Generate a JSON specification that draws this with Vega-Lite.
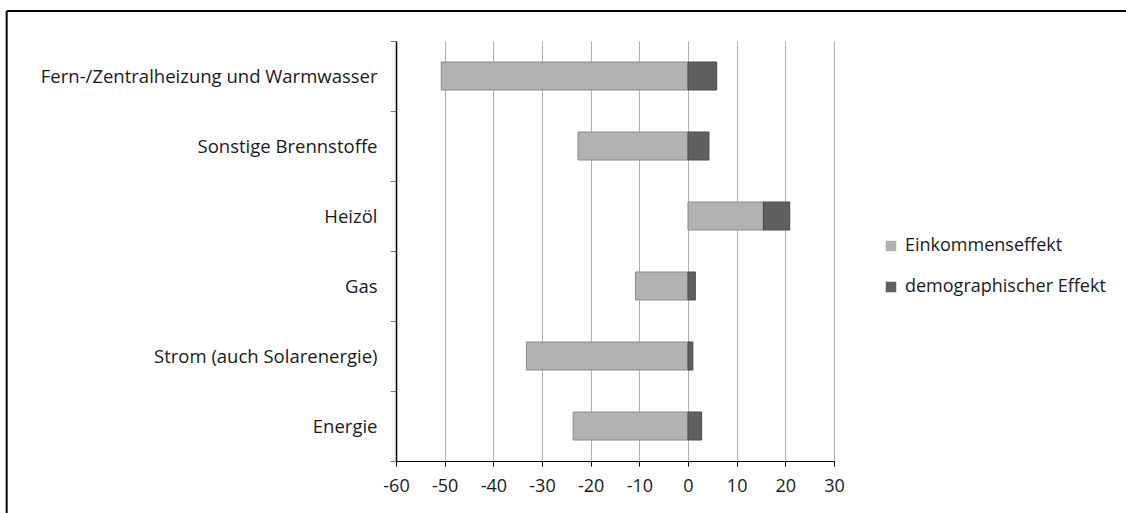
{
  "$schema": "https://vega.github.io/schema/vega-lite/v6.json",
  "width": 438,
  "height": 420,
  "autosize": {"type": "none"},
  "padding": {"left": 396, "top": 41, "right": 292, "bottom": 52},
  "background": "white",
  "config": {
    "font": "Open Sans",
    "view": {"stroke": null},
    "axis": {"labelFont": "Open Sans", "labelColor": "#1a1a1a", "labelFontSize": 18}
  },
  "datasets": {
    "effekte": [
      {"kategorie": "Fern-/Zentralheizung und Warmwasser", "effekt": "Einkommenseffekt", "ordnung": 1, "wert": -50.7},
      {"kategorie": "Fern-/Zentralheizung und Warmwasser", "effekt": "demographischer Effekt", "ordnung": 2, "wert": 5.9},
      {"kategorie": "Sonstige Brennstoffe", "effekt": "Einkommenseffekt", "ordnung": 1, "wert": -22.6},
      {"kategorie": "Sonstige Brennstoffe", "effekt": "demographischer Effekt", "ordnung": 2, "wert": 4.3},
      {"kategorie": "Heizöl", "effekt": "Einkommenseffekt", "ordnung": 1, "wert": 15.5},
      {"kategorie": "Heizöl", "effekt": "demographischer Effekt", "ordnung": 2, "wert": 5.4},
      {"kategorie": "Gas", "effekt": "Einkommenseffekt", "ordnung": 1, "wert": -10.8},
      {"kategorie": "Gas", "effekt": "demographischer Effekt", "ordnung": 2, "wert": 1.5},
      {"kategorie": "Strom (auch Solarenergie)", "effekt": "Einkommenseffekt", "ordnung": 1, "wert": -33.2},
      {"kategorie": "Strom (auch Solarenergie)", "effekt": "demographischer Effekt", "ordnung": 2, "wert": 1.0},
      {"kategorie": "Energie", "effekt": "Einkommenseffekt", "ordnung": 1, "wert": -23.6},
      {"kategorie": "Energie", "effekt": "demographischer Effekt", "ordnung": 2, "wert": 2.8}
    ]
  },
  "layer": [
    {
      "data": {"name": "effekte"},
      "mark": {"type": "bar", "height": {"band": 0.4}, "strokeWidth": 1},
      "encoding": {
        "y": {
          "field": "kategorie",
          "type": "nominal",
          "sort": null,
          "title": null,
          "scale": {"paddingInner": 0, "paddingOuter": 0},
          "axis": {
            "tickBand": "extent",
            "domainColor": "#000000",
            "domainWidth": 1.5,
            "tickColor": "#7f7f7f",
            "tickSize": 6,
            "labelPadding": 13,
            "labelLimit": 0,
            "labelFontSize": 18.5,
            "grid": false
          }
        },
        "x": {
          "field": "wert",
          "type": "quantitative",
          "stack": "zero",
          "title": null,
          "scale": {"domain": [-60, 30], "nice": false, "zero": false},
          "axis": {
            "values": [-60, -50, -40, -30, -20, -10, 0, 10, 20, 30],
            "labelExpr": "'' + datum.value",
            "grid": true,
            "gridColor": "#b0b0b0",
            "gridWidth": 1,
            "domainColor": "#000000",
            "domainWidth": 1.2,
            "tickColor": "#000000",
            "tickSize": 5,
            "labelPadding": 11,
            "labelFlush": false
          }
        },
        "order": {"field": "ordnung", "type": "quantitative"},
        "fill": {
          "field": "effekt",
          "type": "nominal",
          "scale": {
            "domain": ["Einkommenseffekt", "demographischer Effekt"],
            "range": ["#b2b2b2", "#606060"]
          },
          "legend": {
            "title": null,
            "orient": "none",
            "legendX": 486,
            "legendY": 196,
            "padding": 0,
            "symbolType": "square",
            "symbolSize": 110,
            "symbolStrokeWidth": 0,
            "labelFontSize": 18,
            "labelFont": "Open Sans",
            "labelColor": "#1a1a1a",
            "labelOffset": 5,
            "labelLimit": 0,
            "rowPadding": 23
          }
        },
        "stroke": {
          "field": "effekt",
          "type": "nominal",
          "scale": {
            "domain": ["Einkommenseffekt", "demographischer Effekt"],
            "range": ["#8a8a8a", "#4a4a4a"]
          },
          "legend": null
        }
      }
    },
    {
      "data": {"values": [{}]},
      "mark": {"type": "rule", "color": "#000000", "strokeWidth": 2, "clip": false},
      "encoding": {
        "x": {"datum": -140, "type": "quantitative"},
        "y": {"datum": 450, "type": "quantitative", "scale": {"domain": [0, 420], "nice": false, "zero": false}, "axis": null},
        "y2": {"datum": -60}
      }
    },
    {
      "data": {"values": [{}]},
      "mark": {"type": "rule", "color": "#000000", "strokeWidth": 2, "clip": false},
      "encoding": {
        "x": {"datum": -140, "type": "quantitative"},
        "x2": {"datum": 95},
        "y": {"datum": 450, "type": "quantitative", "scale": {"domain": [0, 420], "nice": false, "zero": false}, "axis": null}
      }
    }
  ],
  "resolve": {"scale": {"y": "independent", "stroke": "independent"}}
}
